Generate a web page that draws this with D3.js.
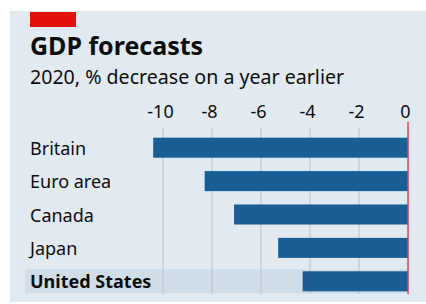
<!DOCTYPE html>
<html lang="en">
<head>
<meta charset="UTF-8">
<title>GDP forecasts</title>
<style>
  body { margin: 0; background: #fff; font-family: "Noto Sans", sans-serif; }
  svg { display: block; }
</style>
</head>
<body>
<svg id="chart" width="426" height="304"></svg>
<script src="https://d3js.org/d3.v7.min.js"></script>
<script>
const countries = ['Britain', 'Euro area', 'Canada', 'Japan', 'United States'];
const values = [-10.4, -8.3, -7.1, -5.3, -4.3];
const ticks = [-10, -8, -6, -4, -2, 0];
const highlight = 'United States';

const svg = d3.select('#chart');

// panel background
svg.append('rect')
  .attr('x', 10).attr('y', 11)
  .attr('width', 416).attr('height', 291)
  .attr('fill', '#e2eaf1');

svg.append('rect')
  .attr('x', 30).attr('y', 12)
  .attr('width', 46).attr('height', 15)
  .attr('fill', '#e3120b');

svg.append('text')
  .attr('x', 30).attr('y', 55)
  .attr('font-size', 25).attr('font-weight', 700)
  .attr('fill', '#0d0d0d')
  .text('GDP forecasts');

svg.append('text')
  .attr('x', 30).attr('y', 84)
  .attr('font-size', 19.6)
  .attr('fill', '#0d0d0d')
  .text('2020, % decrease on a year earlier');

const x = d3.scaleLinear().domain([-10, 0]).range([163, 408]);
const y = d3.scaleBand().domain(countries).range([131, 298]).paddingInner(0.4).paddingOuter(0.2);

// highlight band
svg.append('rect')
  .attr('x', 25)
  .attr('y', y(highlight) - 2)
  .attr('width', 383)
  .attr('height', y.bandwidth() + 4)
  .attr('fill', '#cfdde8');

// tick labels
const axis = d3.axisTop(x).tickValues(ticks).tickSize(0).tickFormat(d => d === 0 ? '0' : '-' + Math.abs(d));
const gAxis = svg.append('g').attr('transform', 'translate(0,121)').call(axis);
gAxis.select('.domain').remove();
gAxis.selectAll('text')
  .attr('font-family', '"Noto Sans", sans-serif')
  .attr('font-size', 18)
  .attr('fill', '#0d0d0d')
  .attr('dx', -3)
  .attr('dy', 0);

// gridlines
svg.append('g')
  .selectAll('line')
  .data(ticks.filter(d => d !== 0))
  .join('line')
  .attr('x1', d => x(d)).attr('x2', d => x(d))
  .attr('y1', 128).attr('y2', 294)
  .attr('stroke', '#b9c2c9')
  .attr('stroke-width', 1);

svg.append('g')
  .selectAll('rect')
  .data(values)
  .join('rect')
  .attr('x', d => x(d))
  .attr('y', (d, i) => y(countries[i]))
  .attr('width', d => x(0) - x(d))
  .attr('height', y.bandwidth())
  .attr('fill', '#1a5e96');

svg.append('g')
  .selectAll('text')
  .data(countries)
  .join('text')
  .attr('x', 30)
  .attr('y', d => y(d) + y.bandwidth() / 2 + 7)
  .attr('font-size', 18)
  .attr('font-weight', d => d === highlight ? 700 : 400)
  .attr('fill', '#0d0d0d')
  .text(d => d);

svg.append('line')
  .attr('x1', x(0)).attr('x2', x(0))
  .attr('y1', 122).attr('y2', 294)
  .attr('stroke', '#e8414a')
  .attr('stroke-width', 1.5);
</script>
</body>
</html>
